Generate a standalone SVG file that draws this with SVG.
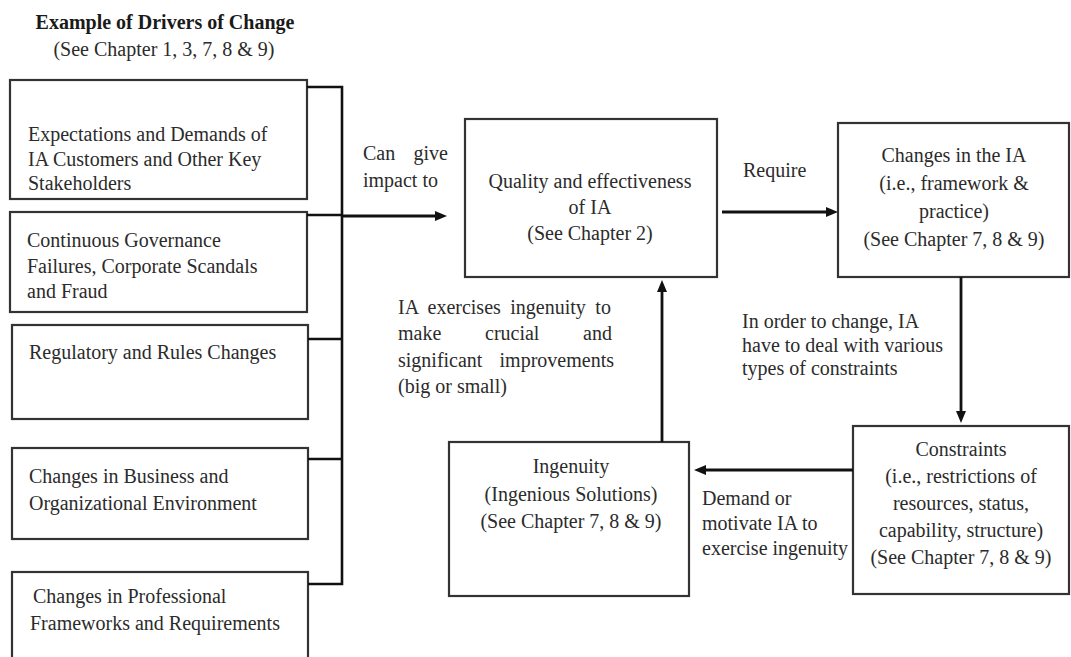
<svg xmlns="http://www.w3.org/2000/svg" width="1071" height="657" viewBox="0 0 1071 657">
  <style>
    .box { fill: #ffffff; stroke: #333333; stroke-width: 2.2; }
    .wire { fill: none; stroke: #111111; stroke-width: 2.6; }
    .arrow { fill: none; stroke: #111111; stroke-width: 2.8; marker-end: url(#head); }
    text { font-family: "Liberation Serif", "Times New Roman", serif; font-size: 20px; fill: #2b2b2b; }
    .title { font-weight: bold; fill: #1a1a1a; }
    .mid { text-anchor: middle; }
    .end { text-anchor: end; }
  </style>
  <defs>
    <marker id="head" viewBox="0 0 12 10" markerWidth="12" markerHeight="10" refX="3" refY="5" orient="auto" markerUnits="userSpaceOnUse">
      <path d="M0,0 L12,5 L0,10 z" fill="#111111"/>
    </marker>
  </defs>
  <rect width="1071" height="657" fill="#ffffff"/>

  <!-- heading -->
  <g id="heading">
    <text class="title mid" x="165" y="29">Example of Drivers of Change</text>
    <text class="mid" x="164" y="56">(See Chapter 1, 3, 7, 8 &amp; 9)</text>
  </g>

  <!-- drivers of change -->
  <g id="driver-expectations">
    <rect class="box" x="10" y="80" width="297" height="119"/>
    <text x="28" y="141">Expectations and Demands of</text>
    <text x="28" y="166">IA Customers  and Other Key</text>
    <text x="28" y="190">Stakeholders</text>
  </g>
  <g id="driver-governance">
    <rect class="box" x="10" y="212" width="297" height="100"/>
    <text x="27" y="247">Continuous Governance</text>
    <text x="27" y="273">Failures, Corporate Scandals</text>
    <text x="27" y="298">and Fraud</text>
  </g>
  <g id="driver-regulatory">
    <rect class="box" x="12" y="325" width="296" height="94"/>
    <text x="29" y="359">Regulatory and Rules Changes</text>
  </g>
  <g id="driver-business">
    <rect class="box" x="12" y="448" width="296" height="91"/>
    <text x="29" y="483">Changes in Business and</text>
    <text x="29" y="510">Organizational Environment</text>
  </g>
  <g id="driver-professional">
    <rect class="box" x="12" y="572" width="296" height="100"/>
    <text x="33" y="603">Changes in Professional</text>
    <text x="30" y="630">Frameworks and Requirements</text>
  </g>

  <!-- cycle nodes -->
  <g id="quality">
    <rect class="box" x="465" y="119" width="252" height="158"/>
    <text class="mid" x="590" y="188">Quality and effectiveness</text>
    <text class="mid" x="590" y="214">of IA</text>
    <text class="mid" x="590" y="240">(See Chapter 2)</text>
  </g>
  <g id="changes-ia">
    <rect class="box" x="838" y="123" width="231" height="154"/>
    <text class="mid" x="954" y="162">Changes in the IA</text>
    <text class="mid" x="954" y="190">(i.e., framework &amp;</text>
    <text class="mid" x="954" y="218">practice)</text>
    <text class="mid" x="954" y="246">(See Chapter 7, 8 &amp; 9)</text>
  </g>
  <g id="constraints">
    <rect class="box" x="853" y="426" width="216" height="168"/>
    <text class="mid" x="961" y="456">Constraints</text>
    <text class="mid" x="961" y="483">(i.e., restrictions of</text>
    <text class="mid" x="961" y="510">resources, status,</text>
    <text class="mid" x="961" y="537">capability, structure)</text>
    <text class="mid" x="961" y="564">(See Chapter 7, 8 &amp; 9)</text>
  </g>
  <g id="ingenuity">
    <rect class="box" x="449" y="442" width="240" height="154"/>
    <text class="mid" x="571" y="473">Ingenuity</text>
    <text class="mid" x="571" y="501">(Ingenious Solutions)</text>
    <text class="mid" x="571" y="528">(See Chapter 7, 8 &amp; 9)</text>
  </g>

  <!-- connectors -->
  <g id="connectors">
    <path class="wire" d="M307,87 H342 V584 H308 M307,215 H342 M308,339 H342 M308,459 H342"/>
    <line class="arrow" x1="342" y1="216" x2="438" y2="216"/>
    <line class="arrow" x1="722" y1="212" x2="829" y2="212"/>
    <line class="arrow" x1="961" y1="277" x2="961" y2="414"/>
    <line class="arrow" x1="853" y1="470" x2="703" y2="470"/>
    <line class="arrow" x1="662" y1="442" x2="662" y2="289"/>
  </g>

  <!-- connector labels (justified lines are set word by word) -->
  <g id="label-impact">
    <text x="363" y="160">Can</text>
    <text class="end" x="448" y="160">give</text>
    <text x="363" y="187">impact to</text>
  </g>
  <g id="label-require">
    <text x="743" y="177">Require</text>
  </g>
  <g id="label-constraints">
    <text x="742" y="328">In order to change, IA</text>
    <text x="742" y="352">have to deal with various</text>
    <text x="742" y="375">types of constraints</text>
  </g>
  <g id="label-demand">
    <text x="702" y="505">Demand or</text>
    <text x="702" y="530">motivate IA to</text>
    <text x="702" y="555">exercise ingenuity</text>
  </g>
  <g id="label-improvements">
    <text x="398" y="314" word-spacing="4.5">IA exercises ingenuity to</text>
    <text x="398" y="340">make</text>
    <text x="485" y="340">crucial</text>
    <text class="end" x="612" y="340">and</text>
    <text x="398" y="367">significant</text>
    <text class="end" x="614" y="367">improvements</text>
    <text x="398" y="393">(big or small)</text>
  </g>
</svg>
